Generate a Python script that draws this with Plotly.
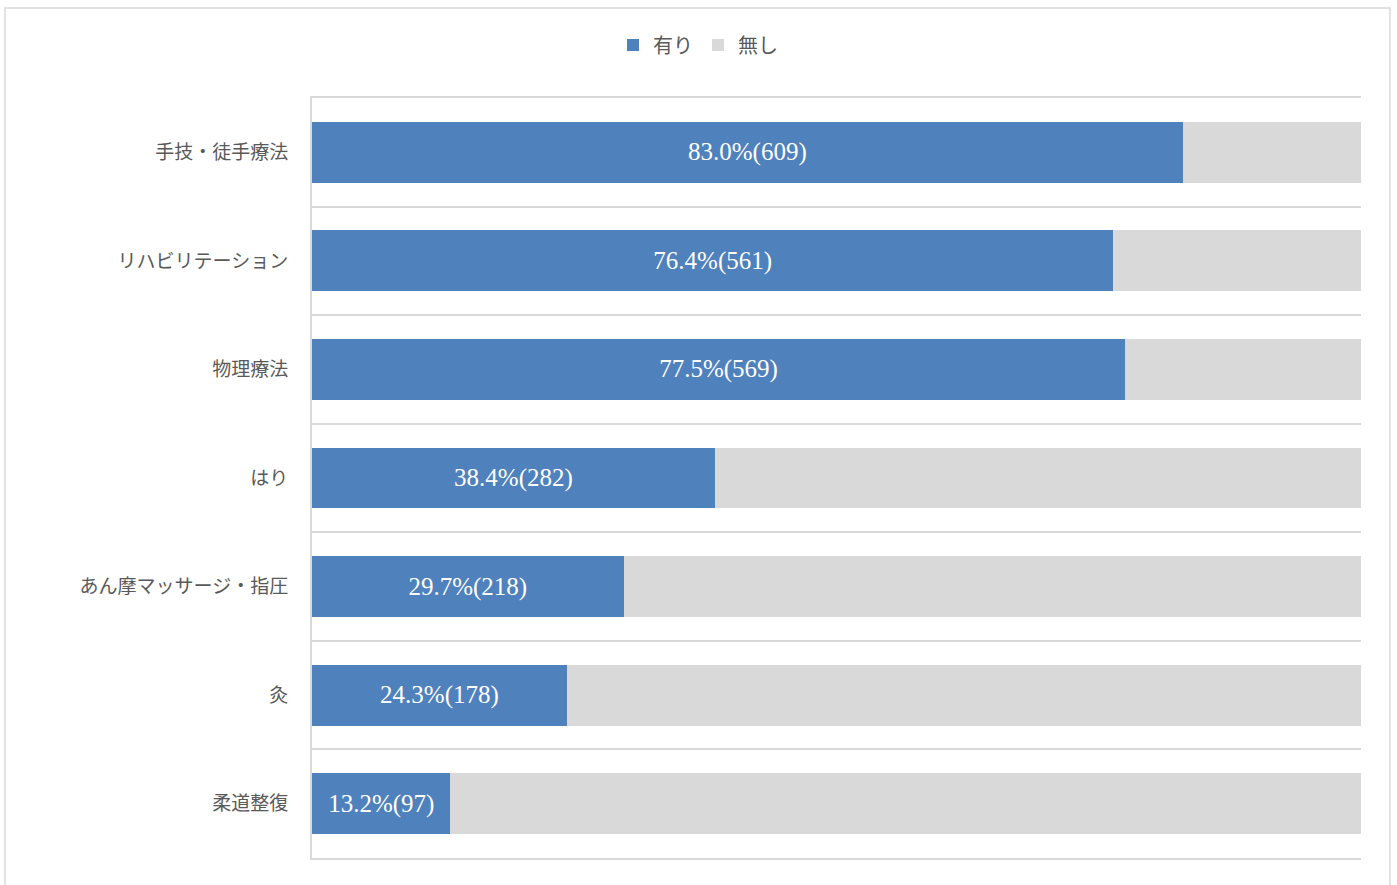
import plotly.graph_objects as go

categories = ["手技・徒手療法", "リハビリテーション", "物理療法", "はり", "あん摩マッサージ・指圧", "灸", "柔道整復"]
yes_pct = [83.0, 76.4, 77.5, 38.4, 29.7, 24.3, 13.2]
yes_cnt = [609, 561, 569, 282, 218, 178, 97]
no_pct = [round(100 - v, 1) for v in yes_pct]

BLUE = "#4f81bd"
GRAY = "#d9d9d9"
TXT = "#595959"

fig = go.Figure()
fig.add_trace(go.Bar(
    y=categories, x=yes_pct, orientation="h", name="有り",
    marker=dict(color=BLUE, line=dict(width=0)),
    customdata=yes_cnt,
    texttemplate="%{x:.1f}%(%{customdata})",
    textposition="inside", insidetextanchor="middle",
    textfont=dict(family="Liberation Serif, DejaVu Serif, serif", size=25, color="white"),
    hoverinfo="skip",
))
fig.add_trace(go.Bar(
    y=categories, x=no_pct, orientation="h", name="無し",
    marker=dict(color=GRAY, line=dict(width=0)),
    hoverinfo="skip",
))

W, H = 1397, 885
L, R, T, B = 312, 36, 98, 27
pw, ph = W - L - R, H - T - B

def px_x(x):
    return (x - L) / pw

def px_y(y):
    return (H - B - y) / ph

fig.update_layout(
    width=W, height=H,
    barmode="stack", bargap=0.44,
    margin=dict(l=L, r=R, t=T, b=B, pad=0),
    paper_bgcolor="white", plot_bgcolor="white",
    font=dict(family="Noto Sans CJK JP, Noto Sans, sans-serif", color=TXT),
    legend=dict(orientation="h", x=px_x(698), xanchor="center", y=px_y(45), yanchor="middle",
                font=dict(size=20, color=TXT), traceorder="normal",
                itemsizing="constant", itemwidth=30),
    xaxis=dict(range=[0, 100], showticklabels=False, showgrid=False, zeroline=False,
               showline=True, mirror=True, linecolor=GRAY, linewidth=2, fixedrange=True),
    yaxis=dict(autorange="reversed", type="category", tickson="boundaries",
               showgrid=True, gridcolor=GRAY, gridwidth=2,
               showline=True, linecolor=GRAY, linewidth=2,
               ticks="", ticklabelstandoff=18, fixedrange=True,
               tickfont=dict(size=19, color=TXT)),
    shapes=[
        dict(type="rect", xref="paper", yref="paper",
             x0=px_x(5), x1=px_x(1390), y0=px_y(895), y1=px_y(8),
             line=dict(color=GRAY, width=1.5), fillcolor="rgba(0,0,0,0)", layer="below"),
    ],
)

fig.write_html("out.html", config={"displayModeBar": False},
               post_script="document.body.style.margin='0';")
